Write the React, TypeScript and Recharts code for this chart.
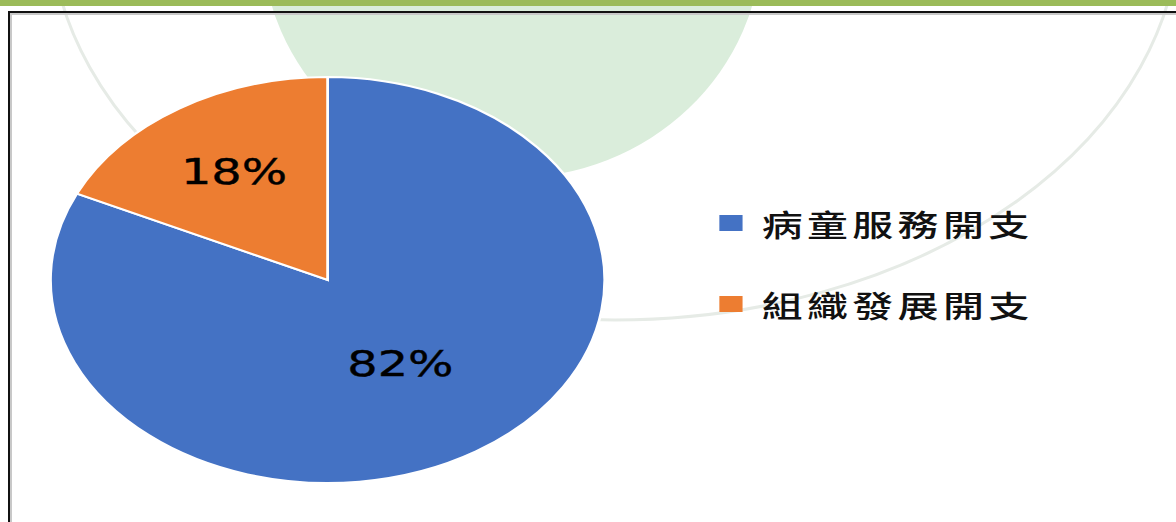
import React from 'react';
import { PieChart, Pie, Cell, Legend } from 'recharts';

const categories = ['病童服務開支', '組織發展開支'];
const shares = [82, 18];
const colors = ['#4472c4', '#ed7d31'];

const data = categories.map((name, i) => ({ name, value: shares[i] }));

// the source picture is stretched sideways, so the whole chart is scaled on x
const SX = 1.365;
const RAD = Math.PI / 180;

const renderLabel = (props: any) => {
    const { cx, cy, midAngle, outerRadius, percent } = props;
    const r = outerRadius * (percent < 0.5 ? 0.63 : 0.49);
    const x = cx + r * Math.cos(-midAngle * RAD);
    const y = cy + r * Math.sin(-midAngle * RAD);
    return (
        <text
            x={x}
            y={y}
            textAnchor="middle"
            dominantBaseline="central"
            fontSize={35}
            fontFamily="DejaVu Sans"
            fill="#000"
            stroke="#000"
            strokeWidth={0.4}
        >
            {`${Math.round(percent * 100)}%`}
        </text>
    );
};

const renderLegend = (props: any) => {
    const { payload } = props;
    return (
        <div>
            {payload.map((entry: any) => (
                <div key={entry.value} style={{ display: 'flex', alignItems: 'center', height: 81 }}>
                    <span style={{ width: 17, height: 16, background: entry.color, marginRight: 14 }} />
                    <span
                        style={{
                            fontFamily: '"Noto Sans CJK TC"',
                            fontSize: 30,
                            fontWeight: 500,
                            letterSpacing: 3.2,
                            color: '#111',
                            whiteSpace: 'nowrap',
                        }}
                    >
                        {entry.value}
                    </span>
                </div>
            ))}
        </div>
    );
};

export default function App() {
    return (
        <div style={{ position: 'fixed', left: 0, top: 0, width: 1176, height: 522, background: '#fff', overflow: 'hidden' }}>
            {/* faint watermark shapes behind the chart */}
            <svg width={1176} height={522} style={{ position: 'absolute', left: 0, top: 0 }}>
                <ellipse cx={512} cy={-60} rx={250} ry={238} fill="#daeddb" />
                <ellipse cx={615} cy={-80} rx={565} ry={400} fill="none" stroke="#e6ebe6" strokeWidth={3} />
            </svg>
            <div style={{ position: 'absolute', left: 0, top: 0, width: 1176, height: 6, background: '#9bbb59' }} />
            <div
                style={{
                    position: 'absolute',
                    left: 8,
                    top: 11,
                    width: 1200,
                    height: 600,
                    borderTop: '2px solid #111',
                    borderLeft: '2px solid #111',
                    boxShadow: 'inset 2px 2px 0 #c8c8c8',
                }}
            />
            <div style={{ position: 'absolute', left: 0, top: 0, transform: `scaleX(${SX})`, transformOrigin: '0 0' }}>
                <PieChart width={862} height={522} margin={{ top: 0, right: 0, bottom: 0, left: 0 }}>
                    <Pie
                        data={data}
                        dataKey="value"
                        nameKey="name"
                        cx={240}
                        cy={280}
                        outerRadius={203}
                        startAngle={90}
                        endAngle={-270}
                        stroke="#fff"
                        strokeWidth={2}
                        label={renderLabel}
                        labelLine={false}
                        isAnimationActive={false}
                    >
                        {data.map((d, i) => (
                            <Cell key={d.name} fill={colors[i]} />
                        ))}
                    </Pie>
                    <Legend
                        layout="vertical"
                        content={renderLegend}
                        wrapperStyle={{ left: 527, top: 182, width: 320 }}
                    />
                </PieChart>
            </div>
        </div>
    );
}
